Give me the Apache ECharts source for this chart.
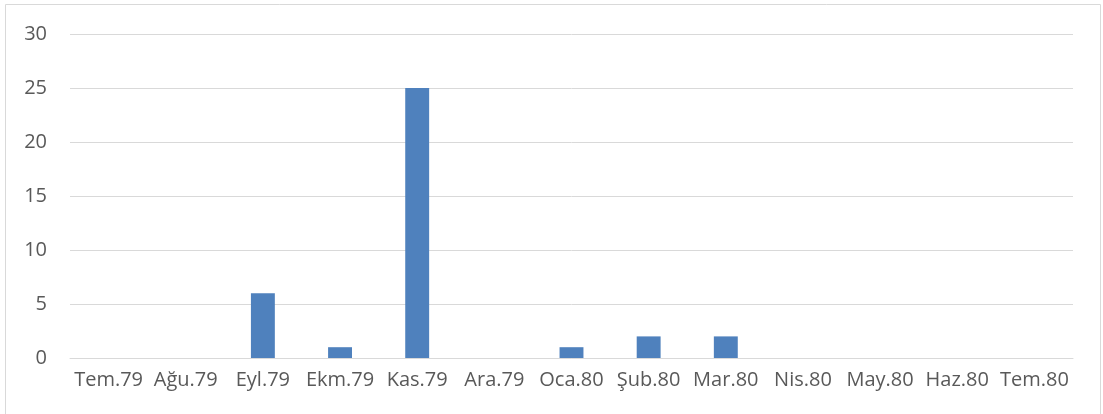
<!DOCTYPE html>
<html>
<head>
<meta charset="utf-8">
<script src="https://cdn.jsdelivr.net/npm/echarts@6/dist/echarts.min.js"></script>
<style>
  html, body { margin: 0; padding: 0; background: #fff; }
  #main { width: 1103px; height: 414px; }
</style>
</head>
<body>
<div id="main"></div>
<script>
const months = ['Tem.79', 'Ağu.79', 'Eyl.79', 'Ekm.79', 'Kas.79', 'Ara.79', 'Oca.80',
  'Şub.80', 'Mar.80', 'Nis.80', 'May.80', 'Haz.80', 'Tem.80']
const counts = [0, 0, 6, 1, 25, 0, 1, 2, 2, 0, 0, 0, 0]
const yTicks = { min: 0, max: 30, step: 5 }

const chart = echarts.init(document.getElementById('main'))
chart.setOption({
  animation: false,
  textStyle: { fontFamily: 'Open Sans' },
  graphic: [
    {
      type: 'rect',
      shape: { x: 5.5, y: 4.5, width: 1095, height: 420 },
      style: { fill: 'none', stroke: '#d9d9d9', lineWidth: 1 },
      silent: true
    }
  ],
  grid: { left: 70, right: 30, top: 34, bottom: 56 },
  xAxis: {
    type: 'category',
    data: months,
    axisTick: { show: false },
    axisLine: { lineStyle: { color: '#d9d9d9', width: 1 } },
    axisLabel: { color: '#595959', fontSize: 20, margin: 12, interval: 0 }
  },
  yAxis: {
    type: 'value',
    min: yTicks.min,
    max: yTicks.max,
    interval: yTicks.step,
    axisLine: { show: false },
    axisTick: { show: false },
    splitLine: { lineStyle: { color: '#d9d9d9', width: 1 } },
    axisLabel: { color: '#595959', fontSize: 20, margin: 23 }
  },
  series: [
    {
      type: 'bar',
      data: counts,
      barWidth: '31%',
      itemStyle: { color: '#4f81bd' }
    }
  ]
})
</script>
</body>
</html>
